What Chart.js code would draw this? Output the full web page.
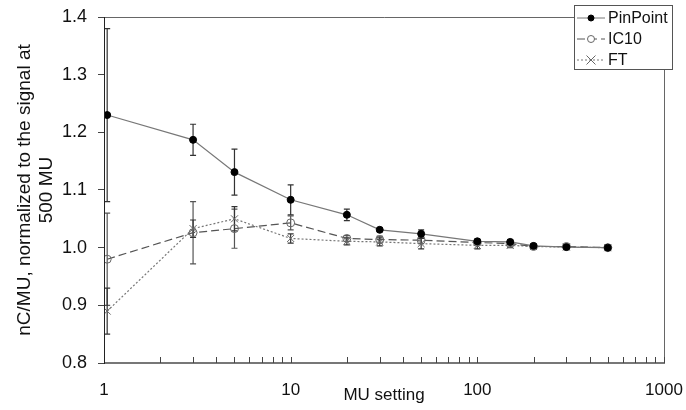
<!DOCTYPE html>
<html>
<head>
<meta charset="utf-8">
<script src="https://cdn.jsdelivr.net/npm/chart.js@4/dist/chart.umd.min.js"></script>
<style>
  html, body { margin: 0; padding: 0; background: #fff; }
  #wrap { width: 686px; height: 410px; position: relative; }
</style>
</head>
<body>
<div id="wrap"><canvas id="chart" width="686" height="410"></canvas></div>
<script>
// MU dependence of three detectors, normalised to 500 MU

const mu = [1.04, 3, 5, 10, 20, 30, 50, 100, 150, 200, 300, 500];

const seriesNames = ['PinPoint', 'IC10', 'FT'];

const pinPoint    = [1.230, 1.187, 1.131, 1.083, 1.057, 1.031, 1.024, 1.011, 1.010, 1.003, 1.001, 1.000];
const pinPointErr = [0.150, 0.027, 0.040, 0.026, 0.010, 0.003, 0.007, 0.004, 0.004, 0.003, 0.002, 0.002];

const ic10    = [0.980, 1.026, 1.033, 1.043, 1.016, 1.014, 1.013, 1.009, 1.007, 1.002, 1.002, 1.000];
const ic10Err = [0.080, 0.054, 0.034, 0.012, 0.005, 0.006, 0.006, 0.004, 0.004, 0.003, 0.003, 0.002];

const ft    = [0.890, 1.033, 1.050, 1.016, 1.011, 1.010, 1.007, 1.004, 1.004, 1.002, 1.001, 1.000];
const ftErr = [0.040, 0.015, 0.021, 0.008, 0.006, 0.007, 0.009, 0.006, 0.004, 0.003, 0.002, 0.002];

const xLabels = [1, 10, 100, 1000];
const yTitle = ['nC/MU, normalized to the signal at', '500 MU'];
const xTitle = 'MU setting';

const FONT = 'Arial, "Liberation Sans", sans-serif';

function points(ys) {
    return mu.map((x, i) => ({ x: x, y: ys[i] }));
}

// ── Plugins ───────────────────────────────────────────────────────────

const errorBars = {
    id: 'errorBars',
    beforeDatasetsDraw(chart) {
        const { ctx, scales: { x, y } } = chart;
        ctx.save();
        chart.data.datasets.forEach((ds) => {
            ctx.strokeStyle = ds.errColor;
            ctx.lineWidth = 1.2;
            ds.data.forEach((p, i) => {
                const e = ds.errors[i];
                const px = x.getPixelForValue(p.x);
                const top = y.getPixelForValue(p.y + e);
                const bot = y.getPixelForValue(p.y - e);
                ctx.beginPath();
                ctx.moveTo(px, top); ctx.lineTo(px, bot);
                ctx.moveTo(px - 3, top); ctx.lineTo(px + 3, top);
                ctx.moveTo(px - 3, bot); ctx.lineTo(px + 3, bot);
                ctx.stroke();
            });
        });
        ctx.restore();
    }
};

const frame = {
    id: 'frame',
    afterDraw(chart) {
        const { ctx, chartArea: a, scales: { x } } = chart;
        ctx.save();
        // top + right border
        ctx.strokeStyle = '#666';
        ctx.lineWidth = 1;
        ctx.beginPath();
        ctx.moveTo(a.left, a.top + 0.5);
        ctx.lineTo(a.right + 0.5, a.top + 0.5);
        ctx.lineTo(a.right + 0.5, a.bottom);
        ctx.stroke();
        // bottom axis + inward ticks
        ctx.strokeStyle = '#777';
        ctx.lineWidth = 2;
        ctx.beginPath();
        ctx.moveTo(a.left, a.bottom);
        ctx.lineTo(a.right + 1, a.bottom);
        ctx.stroke();
        ctx.lineWidth = 1;
        ctx.strokeStyle = '#444';
        ctx.beginPath();
        for (let d = 1; d < 1000; d *= 10) {
            for (let m = 1; m <= 10; m++) {
                const px = Math.round(x.getPixelForValue(m * d)) + 0.5;
                ctx.moveTo(px, a.bottom);
                ctx.lineTo(px, a.bottom - 6);
            }
        }
        ctx.stroke();
        // left axis
        ctx.strokeStyle = '#222';
        ctx.beginPath();
        ctx.moveTo(a.left + 0.5, a.top);
        ctx.lineTo(a.left + 0.5, a.bottom + 1);
        ctx.stroke();

        // legend box
        const lx = 574, ly = 5, lw = 98, lh = 64;
        ctx.fillStyle = '#fff';
        ctx.fillRect(lx, ly, lw, lh);
        ctx.strokeStyle = '#555';
        ctx.strokeRect(lx + 0.5, ly + 0.5, lw, lh);
        ctx.font = '16px ' + FONT;
        ctx.textBaseline = 'middle';
        chart.data.datasets.forEach((ds, i) => {
            const ry = ly + 13 + i * 21;
            const cx = lx + 17;
            ctx.strokeStyle = ds.borderColor;
            ctx.lineWidth = 1;
            ctx.setLineDash(ds.borderDash || []);
            ctx.beginPath();
            ctx.moveTo(lx + 3, ry);
            ctx.lineTo(lx + 31, ry);
            ctx.stroke();
            ctx.setLineDash([]);
            ctx.fillStyle = ds.pointStyle === 'circle' && ds.pointBackgroundColor === '#000' ? '#000' : '#fff';
            ctx.strokeStyle = ds.pointBorderColor;
            ctx.beginPath();
            const r = ds.pointRadius - 0.5;
            if (ds.pointStyle === 'circle') {
                ctx.arc(cx, ry, r, 0, Math.PI * 2);
                ctx.fill();
                ctx.stroke();
            } else {
                ctx.moveTo(cx - r, ry - r); ctx.lineTo(cx + r, ry + r);
                ctx.moveTo(cx + r, ry - r); ctx.lineTo(cx - r, ry + r);
                ctx.stroke();
            }
            ctx.fillStyle = '#111';
            ctx.fillText(ds.label, lx + 34, ry + 1);
        });
        ctx.restore();
    }
};

// ── Chart ─────────────────────────────────────────────────────────────

new Chart(document.getElementById('chart'), {
    type: 'scatter',
    data: {
        datasets: [
            {
                label: seriesNames[0],
                data: points(pinPoint),
                errors: pinPointErr,
                errColor: '#333',
                showLine: true,
                borderColor: '#777',
                borderWidth: 1.2,
                pointStyle: 'circle',
                pointRadius: 3.5,
                pointBackgroundColor: '#000',
                pointBorderColor: '#000',
                pointBorderWidth: 1,
            },
            {
                label: seriesNames[1],
                data: points(ic10),
                errors: ic10Err,
                errColor: '#555',
                showLine: true,
                borderColor: '#555',
                borderWidth: 1.2,
                borderDash: [8, 4],
                pointStyle: 'circle',
                pointRadius: 4,
                pointBackgroundColor: 'rgba(255,255,255,0)',
                pointBorderColor: '#666',
                pointBorderWidth: 1,
            },
            {
                label: seriesNames[2],
                data: points(ft),
                errors: ftErr,
                errColor: '#333',
                showLine: true,
                borderColor: '#777',
                borderWidth: 1.2,
                borderDash: [2, 2],
                pointStyle: 'crossRot',
                pointRadius: 5,
                pointBackgroundColor: '#666',
                pointBorderColor: '#666',
                pointBorderWidth: 1,
            },
        ]
    },
    options: {
        responsive: false,
        animation: false,
        layout: { padding: { top: 17, right: 22, left: 0, bottom: 0 } },
        plugins: {
            legend: { display: false },
            tooltip: { enabled: false },
        },
        scales: {
            x: {
                type: 'logarithmic',
                min: 1,
                max: 1000,
                afterFit: (s) => { s.height = 47; s.paddingLeft = 0; s.paddingRight = 0; },
                grid: { display: false, drawTicks: false },
                border: { display: false },
                ticks: {
                    autoSkip: false,
                    maxRotation: 0,
                    padding: 17,
                    color: '#111',
                    font: { family: FONT, size: 17 },
                    callback: (v) => xLabels.includes(v) ? String(v) : '',
                },
                title: {
                    display: true,
                    text: xTitle,
                    color: '#111',
                    font: { family: FONT, size: 17 },
                    padding: { top: 0, bottom: 4 },
                },
            },
            y: {
                min: 0.8,
                max: 1.4,
                afterFit: (s) => { s.width = 104; s.paddingTop = 0; s.paddingBottom = 0; },
                grid: {
                    drawOnChartArea: false,
                    drawTicks: true,
                    tickLength: 6,
                    color: '#444',
                },
                border: { display: false },
                ticks: {
                    stepSize: 0.1,
                    padding: 11,
                    color: '#111',
                    font: { family: FONT, size: 18 },
                    callback: (v) => v.toFixed(1),
                },
                title: {
                    display: true,
                    text: yTitle,
                    color: '#111',
                    font: { family: FONT, size: 19, lineHeight: 1.2 },
                    padding: { top: 13, bottom: 0 },
                },
            },
        },
    },
    plugins: [errorBars, frame],
});
</script>
</body>
</html>
